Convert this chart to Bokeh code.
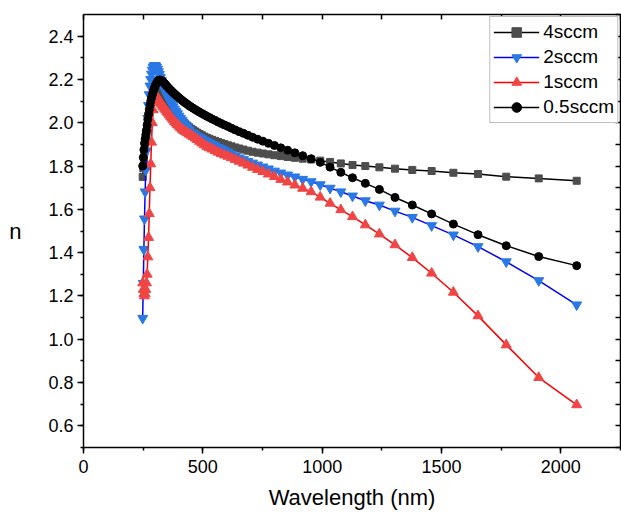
from bokeh.plotting import figure
from bokeh.models import LinearAxis, SingleIntervalTicker, FixedTicker, PrintfTickFormatter, Range1d
from bokeh.embed import file_html
from bokeh.resources import INLINE

# Wavelength (nm)
wavelength = [248.0, 250.5, 253.0, 255.6, 258.3, 261.0, 263.8, 266.6, 269.5, 272.5,
              275.5, 278.6, 281.8, 285.0, 288.3, 291.7, 295.2, 298.8, 302.4, 306.1,
              310.0, 313.9, 317.9, 322.0, 326.3, 330.6, 335.1, 339.7, 344.4, 349.3,
              354.2, 359.4, 364.7, 370.1, 375.7, 381.5, 387.5, 393.6, 400.0, 406.5,
              413.3, 420.3, 427.5, 435.0, 442.8, 450.9, 459.2, 467.9, 476.9, 486.2,
              495.9, 506.1, 516.6, 527.6, 539.1, 551.0, 563.6, 576.7, 590.4, 604.8,
              619.9, 635.8, 652.5, 670.2, 688.8, 708.5, 729.3, 751.4, 774.9, 799.9,
              826.6, 855.1, 885.6, 918.4, 953.7, 991.9, 1033.2, 1078.1, 1127.1, 1180.8,
              1239.8, 1305.1, 1377.6, 1458.6, 1549.8, 1653.1, 1771.2, 1907.4, 2066.4]

n_4sccm = [1.750, 1.790, 1.830, 1.865, 1.895, 1.920, 1.945, 1.970, 1.995, 2.020,
           2.040, 2.060, 2.080, 2.100, 2.115, 2.130, 2.143, 2.153, 2.160, 2.165,
           2.166, 2.164, 2.159, 2.152, 2.144, 2.135, 2.126, 2.117, 2.108, 2.099,
           2.090, 2.081, 2.072, 2.063, 2.055, 2.047, 2.039, 2.031, 2.023, 2.015,
           2.007, 2.000, 1.993, 1.986, 1.979, 1.972, 1.966, 1.960, 1.954, 1.948,
           1.942, 1.936, 1.931, 1.926, 1.921, 1.916, 1.911, 1.906, 1.901, 1.896,
           1.891, 1.886, 1.881, 1.876, 1.871, 1.866, 1.862, 1.858, 1.854, 1.850,
           1.846, 1.842, 1.838, 1.834, 1.830, 1.825, 1.819, 1.812, 1.805, 1.800,
           1.794, 1.788, 1.782, 1.777, 1.769, 1.763, 1.751, 1.743, 1.732]

n_2sccm = [1.097, 1.258, 1.415, 1.556, 1.681, 1.782, 1.870, 1.950, 2.020, 2.080,
           2.130, 2.170, 2.200, 2.225, 2.243, 2.255, 2.262, 2.265, 2.262, 2.256,
           2.247, 2.236, 2.223, 2.209, 2.195, 2.181, 2.167, 2.153, 2.140, 2.127,
           2.116, 2.105, 2.095, 2.084, 2.074, 2.063, 2.052, 2.042, 2.031, 2.020,
           2.010, 1.999, 1.989, 1.978, 1.967, 1.957, 1.951, 1.944, 1.938, 1.932,
           1.926, 1.920, 1.913, 1.907, 1.900, 1.894, 1.887, 1.880, 1.873, 1.865,
           1.856, 1.847, 1.838, 1.830, 1.822, 1.814, 1.805, 1.796, 1.787, 1.777,
           1.768, 1.759, 1.750, 1.739, 1.728, 1.714, 1.698, 1.681, 1.662, 1.640,
           1.620, 1.592, 1.563, 1.525, 1.482, 1.428, 1.358, 1.271, 1.159]

n_1sccm = [1.260, 1.230, 1.210, 1.200, 1.210, 1.230, 1.260, 1.300, 1.380, 1.470,
           1.580, 1.700, 1.810, 1.910, 2.000, 2.060, 2.095, 2.113, 2.120, 2.118,
           2.114, 2.108, 2.101, 2.094, 2.087, 2.080, 2.073, 2.066, 2.059, 2.052,
           2.045, 2.037, 2.029, 2.021, 2.013, 2.005, 1.998, 1.991, 1.984, 1.977,
           1.970, 1.964, 1.958, 1.953, 1.947, 1.942, 1.936, 1.929, 1.922, 1.914,
           1.906, 1.898, 1.890, 1.884, 1.878, 1.871, 1.864, 1.858, 1.851, 1.845,
           1.838, 1.830, 1.822, 1.813, 1.804, 1.794, 1.784, 1.774, 1.763, 1.751,
           1.738, 1.726, 1.712, 1.697, 1.681, 1.656, 1.628, 1.598, 1.566, 1.528,
           1.486, 1.436, 1.377, 1.305, 1.217, 1.108, 0.974, 0.823, 0.697]

n_05sccm = [1.800, 1.840, 1.875, 1.905, 1.925, 1.945, 1.965, 1.990, 2.015, 2.040,
            2.060, 2.080, 2.100, 2.115, 2.128, 2.142, 2.155, 2.166, 2.175, 2.183,
            2.190, 2.195, 2.197, 2.197, 2.195, 2.191, 2.186, 2.181, 2.175, 2.169,
            2.163, 2.157, 2.151, 2.145, 2.139, 2.133, 2.127, 2.121, 2.115, 2.109,
            2.103, 2.097, 2.091, 2.085, 2.079, 2.073, 2.067, 2.061, 2.055, 2.049,
            2.043, 2.037, 2.030, 2.024, 2.017, 2.011, 2.004, 1.997, 1.990, 1.983,
            1.975, 1.967, 1.959, 1.951, 1.942, 1.933, 1.924, 1.915, 1.905, 1.895,
            1.884, 1.873, 1.861, 1.848, 1.834, 1.817, 1.795, 1.771, 1.746, 1.720,
            1.692, 1.655, 1.620, 1.579, 1.532, 1.483, 1.432, 1.382, 1.340]

series_labels = ["4sccm", "2sccm", "1sccm", "0.5sccm"]

# tick positions for the unlabeled top / right frame axes
top_ticks = [0, 250, 500, 750, 1000, 1250, 1500, 1750, 2000, 2250]
right_ticks = [0.5, 0.6, 0.7, 0.8, 0.9, 1.0, 1.1, 1.2, 1.3, 1.4, 1.5, 1.6, 1.7,
               1.8, 1.9, 2.0, 2.1, 2.2, 2.3, 2.4, 2.5]

FONT = "Liberation Sans"

p = figure(width=621, height=512, x_range=Range1d(0, 2250), y_range=Range1d(0.5, 2.5),
           output_backend="svg", toolbar_location=None,
           min_border_left=83, min_border_right=1, min_border_top=14, min_border_bottom=65)
p.xgrid.visible = False
p.ygrid.visible = False
p.outline_line_color = None
p.background_fill_color = "white"

def style_axis(ax):
    ax.axis_line_width = 1.5
    ax.axis_line_color = "black"
    ax.major_tick_line_width = 1.5
    ax.minor_tick_line_width = 1.5
    ax.major_tick_line_color = "black"
    ax.minor_tick_line_color = "black"

def style_outer(ax):
    style_axis(ax)
    ax.major_tick_in, ax.major_tick_out = 0, 6
    ax.minor_tick_in, ax.minor_tick_out = 0, 3
    ax.major_label_text_font = FONT
    ax.major_label_text_font_size = "18px"
    ax.major_label_text_color = "black"
    ax.axis_label_text_font = FONT
    ax.axis_label_text_font_size = "22px"
    ax.axis_label_text_font_style = "normal"
    ax.axis_label_text_color = "black"

def style_inner(ax):
    style_axis(ax)
    ax.major_tick_in, ax.major_tick_out = 0, 0
    ax.minor_tick_in, ax.minor_tick_out = 5, 0
    ax.major_label_standoff = 0

xa = p.xaxis[0]
xa.ticker = SingleIntervalTicker(interval=500, num_minor_ticks=2)
xa.axis_label = "Wavelength (nm)"
style_outer(xa)
xa.major_label_standoff = 6
xa.axis_label_standoff = 9

ya = p.yaxis[0]
ya.ticker = SingleIntervalTicker(interval=0.2, num_minor_ticks=2)
ya.formatter = PrintfTickFormatter(format="%.1f")
ya.axis_label = "n"
style_outer(ya)
ya.major_label_standoff = 4
ya.axis_label_standoff = 24
if "axis_label_orientation" in LinearAxis.properties():
    ya.axis_label_orientation = "horizontal"

top = LinearAxis(ticker=FixedTicker(ticks=[], minor_ticks=top_ticks))
style_inner(top)
p.add_layout(top, "above")
right = LinearAxis(ticker=FixedTicker(ticks=[], minor_ticks=right_ticks))
style_inner(right)
p.add_layout(right, "right")

styles = [
    (n_4sccm, "black", "square", "#4d4d4d", 7),
    (n_2sccm, "#0000ff", "inverted_triangle", "#2a78e6", 10),
    (n_1sccm, "#ff0000", "triangle", "#f04545", 10),
    (n_05sccm, "black", "circle", "black", 8),
]
for (vals, lc, mk, mc, sz), lab in zip(styles, series_labels):
    p.line(wavelength, vals, line_color=lc, line_width=1.5, legend_label=lab)
    p.scatter(wavelength, vals, marker=mk, size=sz, fill_color=mc, line_color=mc,
              legend_label=lab)

lg = p.legend[0]
lg.location = "top_right"
lg.margin = 2
lg.padding = 3
lg.spacing = 1
lg.glyph_width = 46
lg.glyph_height = 24
lg.label_height = 24
lg.label_standoff = 4
lg.label_text_font = FONT
lg.label_text_font_size = "19px"
lg.label_text_color = "black"
lg.border_line_color = "#7f7f7f"
lg.border_line_width = 1
lg.background_fill_color = "white"
lg.background_fill_alpha = 1.0

open("out.html", "w").write(file_html(p, INLINE))
